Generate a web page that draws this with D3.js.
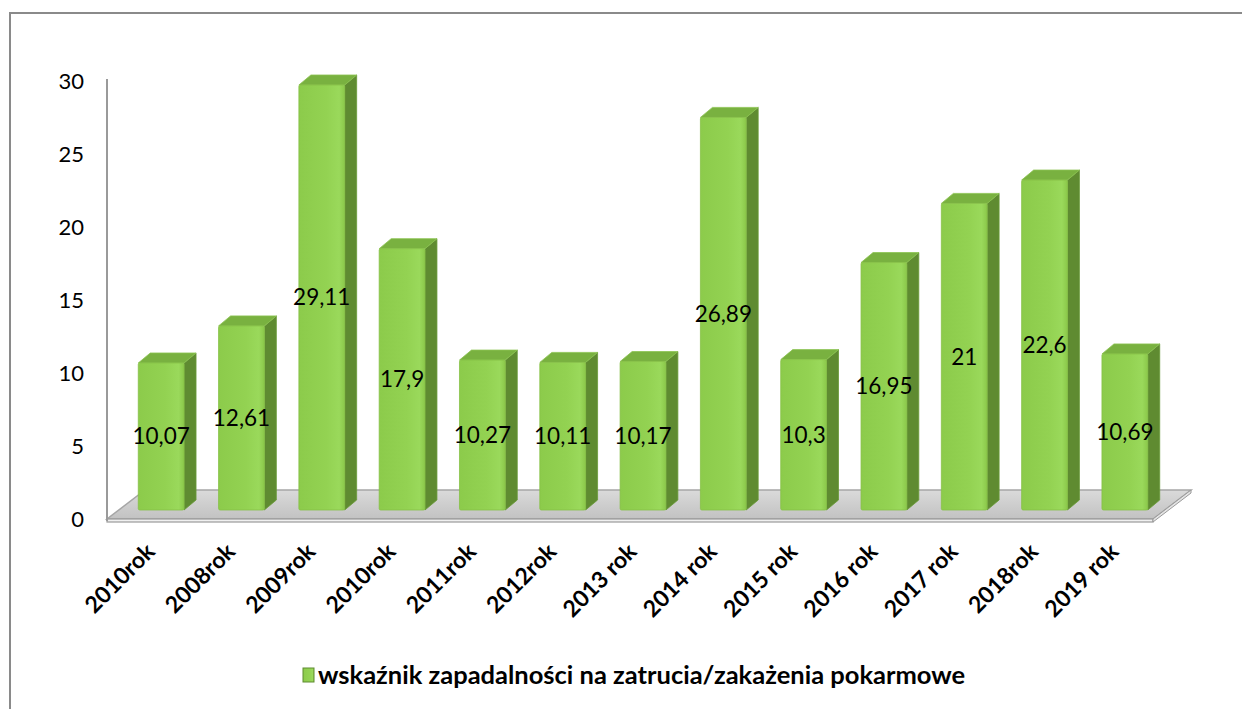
<!DOCTYPE html>
<html>
<head>
<meta charset="utf-8">
<script src="https://cdn.jsdelivr.net/npm/d3@7"></script>
<style>
  body { margin: 0; background: #fff; }
  text { font-family: Lato, "Open Sans", sans-serif; fill: #000; }
</style>
</head>
<body>
<svg width="1242" height="709"></svg>
<script>
// chart data
const categories = ["2010rok", "2008rok", "2009rok", "2010rok", "2011rok", "2012rok", "2013 rok",
  "2014 rok", "2015 rok", "2016 rok", "2017 rok", "2018rok", "2019 rok"];
const values = [10.07, 12.61, 29.11, 17.9, 10.27, 10.11, 10.17, 26.89, 10.3, 16.95, 21, 22.6, 10.69];
const yTicks = [0, 5, 10, 15, 20, 25, 30];
const seriesName = "wskaźnik zapadalności na zatrucia/zakażenia pokarmowe";

const svg = d3.select("svg"),
  width = +svg.attr("width"),
  height = +svg.attr("height");

// 3d offsets (floor depth, bar inset from front plane, bar depth)
const floorD = { dx: 38, dy: -29 },
  inset = { dx: 11, dy: -9 },
  barD = { dx: 12, dy: -10 };

const x = d3.scaleBand()
  .domain(d3.range(categories.length))
  .range([110, 1154])
  .paddingInner(0.43)
  .paddingOuter(0.215);

const y = d3.scaleLinear()
  .domain([0, 30])
  .range([519, 81]);

const defs = svg.append("defs");

const gFront = defs.append("linearGradient").attr("id", "barFront")
  .attr("x1", 0).attr("x2", 1).attr("y1", 0).attr("y2", 0);
gFront.append("stop").attr("offset", "0%").attr("stop-color", "#8ccb4b");
gFront.append("stop").attr("offset", "60%").attr("stop-color", "#93d252");
gFront.append("stop").attr("offset", "88%").attr("stop-color", "#9ad95b");
gFront.append("stop").attr("offset", "100%").attr("stop-color", "#8bc84a");

const gFloor = defs.append("linearGradient").attr("id", "floor")
  .attr("x1", 0).attr("x2", 0).attr("y1", 0).attr("y2", 1);
gFloor.append("stop").attr("offset", "0%").attr("stop-color", "#dadada");
gFloor.append("stop").attr("offset", "100%").attr("stop-color", "#c2c2c2");

// chart border
svg.append("rect")
  .attr("x", 10).attr("y", 13)
  .attr("width", width).attr("height", height)
  .attr("fill", "none")
  .attr("stroke", "#8a8a8a")
  .attr("stroke-width", 2);

// floor
const fx0 = x.range()[0] - 3, fx1 = x.range()[1] - 1, fy = y(0);
svg.append("polygon")
  .attr("points", [
    [fx0, fy], [fx1, fy], [fx1 + floorD.dx, fy + floorD.dy], [fx0 + floorD.dx, fy + floorD.dy]
  ].map(p => p.join(",")).join(" "))
  .attr("fill", "url(#floor)")
  .attr("stroke", "#a6a6a6")
  .attr("stroke-width", 1.5);

svg.append("rect")
  .attr("x", fx0).attr("y", fy)
  .attr("width", fx1 - fx0).attr("height", 3)
  .attr("fill", "#f0f0f0")
  .attr("stroke", "#9a9a9a")
  .attr("stroke-width", 1.2);

svg.append("polygon")
  .attr("points", [
    [fx1, fy], [fx1 + floorD.dx, fy + floorD.dy], [fx1 + floorD.dx, fy + floorD.dy + 3], [fx1, fy + 3]
  ].map(p => p.join(",")).join(" "))
  .attr("fill", "#e4e4e4")
  .attr("stroke", "#9a9a9a")
  .attr("stroke-width", 1);

// value axis line
svg.append("line")
  .attr("x1", fx0).attr("x2", fx0)
  .attr("y1", y(30) - 2).attr("y2", fy + 2)
  .attr("stroke", "#9a9a9a")
  .attr("stroke-width", 2);

// y tick labels
svg.append("g").selectAll("text")
  .data(yTicks)
  .enter().append("text")
  .attr("x", 84)
  .attr("y", d => y(d))
  .attr("dy", "0.35em")
  .attr("text-anchor", "end")
  .style("font-size", "22px")
  .text(d => d);

// bars
const bars = svg.append("g").selectAll("g")
  .data(values)
  .enter().append("g")
  .attr("class", "bar");

const bx0 = (d, i) => x(i) + inset.dx,
  bx1 = (d, i) => x(i) + inset.dx + x.bandwidth(),
  by0 = d => y(0) + inset.dy,
  byt = d => y(d) + inset.dy;

// side face
bars.append("polygon")
  .attr("points", (d, i) => [
    [bx1(d, i), byt(d)], [bx1(d, i) + barD.dx, byt(d) + barD.dy],
    [bx1(d, i) + barD.dx, by0(d) + barD.dy], [bx1(d, i), by0(d)]
  ].map(p => p.join(",")).join(" "))
  .attr("fill", "#5f8b31")
  .attr("stroke", "#6a9a38")
  .attr("stroke-width", 0.8);

// top face
bars.append("polygon")
  .attr("points", (d, i) => [
    [bx0(d, i), byt(d)], [bx0(d, i) + barD.dx, byt(d) + barD.dy],
    [bx1(d, i) + barD.dx, byt(d) + barD.dy], [bx1(d, i), byt(d)]
  ].map(p => p.join(",")).join(" "))
  .attr("fill", "#79b140")
  .attr("stroke", "#8cc350")
  .attr("stroke-width", 0.8);

// front face
bars.append("rect")
  .attr("x", bx0)
  .attr("y", byt)
  .attr("width", x.bandwidth())
  .attr("height", d => by0(d) - byt(d))
  .attr("rx", 1.5)
  .attr("fill", "url(#barFront)")
  .attr("stroke", "#86c046")
  .attr("stroke-width", 0.8);

// value labels
bars.append("text")
  .attr("x", (d, i) => bx0(d, i) + x.bandwidth() / 2)
  .attr("y", d => (by0(d) + byt(d)) / 2)
  .attr("dy", "0.35em")
  .attr("text-anchor", "middle")
  .style("font-size", "22.5px")
  .text(d => d3.format("")(d).replace(".", ","));

// category labels
svg.append("g").selectAll("text")
  .data(categories)
  .enter().append("text")
  .attr("transform", (d, i) => "translate(" + (x(i) + inset.dx + x.bandwidth() / 2 - 5) + ",553) rotate(-45)")
  .attr("text-anchor", "end")
  .style("font-size", "23px")
  .style("font-weight", "bold")
  .text(d => d);

// legend
const legend = svg.append("g").attr("id", "legend");
legend.append("rect")
  .attr("x", 303).attr("y", 668)
  .attr("width", 11).attr("height", 14)
  .attr("fill", "url(#barFront)")
  .attr("stroke", "#5f8b31")
  .attr("stroke-width", 1);
legend.append("text")
  .attr("x", 318).attr("y", 675)
  .attr("dy", "0.35em")
  .style("font-size", "25.5px")
  .style("font-weight", "bold")
  .text(seriesName);
</script>
</body>
</html>
